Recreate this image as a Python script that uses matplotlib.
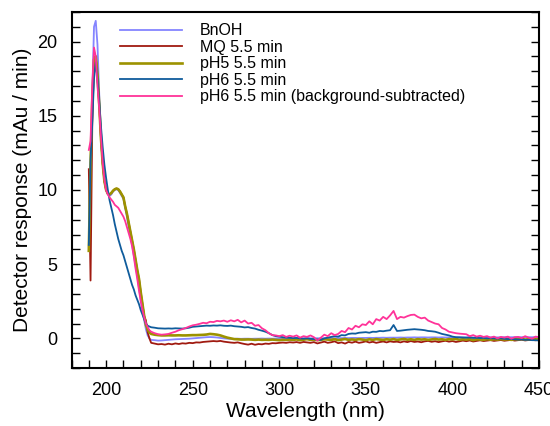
import numpy as np
import matplotlib.pyplot as plt
from matplotlib.ticker import MultipleLocator

# wavelength grids (nm): 1 nm steps around the peak, 2 nm steps in the tail
wl_head = np.arange(190, 227, 1)
wl_tail = np.arange(228, 452, 2)

bnoh_head = [6.2, 9.5, 16.5, 21.0, 21.4, 19.8, 16.5, 13.5, 11.8, 10.6,
             10.0, 9.7, 9.6, 9.7, 9.9, 10.0, 10.05, 10.0, 9.8, 9.6,
             9.4, 8.8, 8.2, 7.5, 6.9, 6.3, 5.6, 4.9, 4.2, 3.4,
             2.6, 1.8, 1.2, 0.6, 0.2, 0.0, -0.1]
bnoh_tail = [-0.12, -0.15, -0.14, -0.12, -0.1, -0.08, -0.06, -0.05, -0.04, -0.03,
             -0.02, 0.0, 0.02, 0.04, 0.06, 0.08, 0.09, 0.08, 0.06, 0.03,
             0.0, -0.02, -0.03, -0.03, -0.02, -0.03, -0.02, -0.02, -0.03, -0.02,
             -0.02, -0.01, -0.02, -0.01, -0.02, -0.01, 0.0, -0.01, 0.0, -0.01,
             0.0, 0.0, 0.01, 0.0, 0.01, 0.0, 0.01, 0.01, 0.0, 0.01,
             0.01, 0.02, 0.01, 0.02, 0.02, 0.03, 0.02, 0.03, 0.03, 0.02,
             0.03, 0.03, 0.04, 0.03, 0.04, 0.04, 0.05, 0.04, 0.05, 0.05,
             0.05, 0.06, 0.05, 0.06, 0.06, 0.07, 0.06, 0.07, 0.07, 0.06,
             0.07, 0.07, 0.06, 0.07, 0.06, 0.07, 0.06, 0.06, 0.07, 0.06,
             0.06, 0.07, 0.06, 0.06, 0.07, 0.06, 0.07, 0.07, 0.06, 0.07,
             0.07, 0.08, 0.07, 0.08, 0.08, 0.07, 0.08, 0.09, 0.08, 0.08,
             0.09, 0.08]

mq_head = [11.4, 3.9, 14.5, 18.6, 19.0, 17.6, 15.8, 13.5, 11.8, 10.6,
           10.0, 9.75, 9.7, 9.8, 9.95, 10.05, 10.1, 10.05, 9.9, 9.7,
           9.5, 8.9, 8.4, 7.8, 7.2, 6.6, 6.0, 5.3, 4.6, 4.0,
           3.1, 2.3, 1.5, 1.2, 0.4, 0.0, -0.3]
mq_tail = [-0.35, -0.4, -0.38, -0.42, -0.36, -0.4, -0.34, -0.38, -0.33, -0.35,
           -0.3, -0.32, -0.27, -0.28, -0.24, -0.22, -0.2, -0.18, -0.2, -0.17,
           -0.22, -0.25, -0.28, -0.3, -0.27, -0.33, -0.38, -0.42, -0.36, -0.43,
           -0.38, -0.4, -0.35, -0.37, -0.32, -0.33, -0.3, -0.28, -0.3, -0.26,
           -0.28, -0.25, -0.3, -0.24, -0.27, -0.3, -0.25, -0.34, -0.28, -0.22,
           -0.3, -0.26, -0.2, -0.32, -0.27, -0.35, -0.24, -0.29, -0.22, -0.3,
           -0.26, -0.2, -0.28, -0.23, -0.3, -0.25, -0.21, -0.27, -0.2, -0.24,
           -0.22, -0.27, -0.2, -0.25, -0.18, -0.24, -0.21, -0.26, -0.2, -0.17,
           -0.23, -0.19, -0.25, -0.2, -0.16, -0.22, -0.18, -0.24, -0.2, -0.15,
           -0.19, -0.14, -0.21, -0.17, -0.13, -0.18, -0.15, -0.12, -0.17, -0.14,
           -0.11, -0.16, -0.13, -0.1, -0.15, -0.12, -0.09, -0.14, -0.11, -0.1,
           -0.13, -0.1]

ph5_head = [5.9, 11.8, 16.0, 18.8, 19.0, 17.8, 15.8, 13.5, 11.8, 10.6,
            10.0, 9.75, 9.7, 9.8, 9.95, 10.05, 10.1, 10.05, 9.9, 9.7,
            9.5, 8.9, 8.4, 7.8, 7.2, 6.6, 6.0, 5.3, 4.6, 4.0,
            3.1, 2.3, 1.5, 0.9, 0.6, 0.4, 0.3]
ph5_tail = [0.25, 0.22, 0.2, 0.2, 0.21, 0.2, 0.2, 0.21, 0.2, 0.2,
            0.21, 0.22, 0.22, 0.23, 0.24, 0.26, 0.3, 0.28, 0.25, 0.2,
            0.12, 0.05, 0.0, -0.05, -0.06, -0.08, -0.08, -0.07, -0.08, -0.1,
            -0.08, -0.1, -0.09, -0.1, -0.08, -0.1, -0.12, -0.09, -0.1, -0.08,
            -0.1, -0.07, -0.12, -0.09, -0.05, -0.1, -0.08, -0.12, -0.1, -0.06,
            -0.08, -0.1, -0.05, -0.12, -0.08, -0.04, -0.1, -0.07, -0.1, -0.05,
            -0.08, -0.12, -0.06, -0.1, -0.05, -0.08, -0.1, -0.06, -0.09, -0.05,
            -0.1, -0.07, -0.04, -0.09, -0.06, -0.1, -0.05, -0.08, -0.06, -0.1,
            -0.07, -0.04, -0.08, -0.06, -0.1, -0.05, -0.07, -0.04, -0.09, -0.06,
            -0.08, -0.05, -0.12, -0.06, -0.08, -0.1, -0.05, -0.09, -0.06, -0.08,
            -0.05, -0.08, -0.06, -0.1, -0.05, -0.07, -0.04, -0.08, -0.06, -0.05,
            -0.07, -0.05]

ph6_head = [6.3, 12.0, 14.5, 17.5, 18.6, 17.5, 16.0, 14.3, 12.9, 11.7,
            10.8, 10.0, 9.3, 8.8, 8.3, 7.7, 7.2, 6.7, 6.3, 5.9,
            5.6, 5.2, 4.8, 4.4, 4.0, 3.6, 3.3, 2.9, 2.6, 2.3,
            1.9, 1.6, 1.3, 1.0, 0.85, 0.8, 0.75]
ph6_tail = [0.72, 0.68, 0.67, 0.66, 0.67, 0.66, 0.68, 0.67, 0.66, 0.68,
            0.72, 0.78, 0.8, 0.82, 0.84, 0.86, 0.85, 0.87, 0.86, 0.88,
            0.85, 0.84, 0.86, 0.82, 0.8, 0.78, 0.74, 0.76, 0.7, 0.66,
            0.58, 0.52, 0.45, 0.35, 0.22, 0.15, 0.12, 0.08, 0.05, 0.04,
            0.02, 0.03, 0.0, -0.02, 0.01, -0.03, -0.05, -0.08, -0.1, 0.0,
            0.05, 0.1, 0.15, 0.12, 0.22, 0.2, 0.3, 0.33, 0.32, 0.38,
            0.4, 0.42, 0.38, 0.45, 0.44, 0.5, 0.48, 0.52, 0.55, 0.9,
            0.5, 0.52, 0.55, 0.58, 0.6, 0.62, 0.6, 0.58, 0.55, 0.5,
            0.48, 0.45, 0.38, 0.3, 0.25, 0.2, 0.12, 0.08, 0.07, 0.06,
            0.05, 0.06, 0.03, 0.04, 0.02, 0.03, 0.0, 0.01, 0.0, -0.02,
            0.0, -0.03, -0.05, -0.04, -0.06, -0.08, -0.07, -0.1, -0.09, -0.12,
            -0.12, -0.14]

ph6bg_head = [12.7, 13.3, 17.0, 19.6, 19.0, 17.0, 15.5, 13.6, 11.9, 10.7,
              10.0, 9.7, 9.5, 9.35, 9.2, 9.0, 8.9, 8.8, 8.6, 8.4,
              8.2, 7.9, 7.5, 7.1, 6.7, 6.2, 5.5, 4.7, 4.0, 3.2,
              2.5, 1.9, 1.4, 1.0, 0.75, 0.55, 0.45]
ph6bg_tail = [0.35, 0.28, 0.25, 0.27, 0.3, 0.38, 0.45, 0.55, 0.62, 0.7,
              0.8, 0.88, 0.92, 0.98, 1.05, 1.02, 1.12, 1.1, 1.18, 1.15,
              1.2, 1.12, 1.22, 1.15, 1.25, 1.08, 1.2, 1.0, 1.05, 0.85,
              0.9, 0.68, 0.55, 0.35, 0.22, 0.2, 0.15, 0.22, 0.1, 0.18,
              0.12, 0.2, 0.05, 0.15, 0.1, 0.2, 0.08, -0.15, 0.05, 0.25,
              0.15, 0.35, 0.22, 0.3, 0.5, 0.42, 0.7, 0.6, 0.85, 0.75,
              0.95, 0.9, 1.15, 0.95, 1.3, 1.2, 1.45, 1.3, 1.55, 1.85,
              1.3, 1.45, 1.4, 1.5, 1.58, 1.6, 1.45, 1.35, 1.4, 1.2,
              1.1, 1.0, 0.95, 0.7, 0.6, 0.45, 0.4, 0.35, 0.32, 0.3,
              0.28, 0.15, 0.22, 0.12, 0.18, 0.1, 0.15, 0.05, 0.12, 0.0,
              0.1, 0.05, 0.12, -0.02, 0.08, 0.1, 0.02, 0.15, 0.05, -0.02,
              0.12, 0.08]

series = [
    ("BnOH", bnoh_head, bnoh_tail, "#8585ff", 1.3),
    ("MQ 5.5 min", mq_head, mq_tail, "#a01a10", 1.3),
    ("pH5 5.5 min", ph5_head, ph5_tail, "#9c9200", 1.9),
    ("pH6 5.5 min", ph6_head, ph6_tail, "#0f5c9c", 1.3),
    ("pH6 5.5 min (background-subtracted)", ph6bg_head, ph6bg_tail, "#ff3399", 1.3),
]

plt.rcParams['font.family'] = ['Liberation Sans', 'DejaVu Sans']

fig = plt.figure(figsize=(5.5, 4.26), dpi=100)
ax = fig.add_axes([0.130, 0.136, 0.850, 0.836])

wl = np.concatenate([wl_head, wl_tail])
for label, head, tail, color, lw in series:
    y = np.array(head + tail)
    assert len(y) == len(wl), label
    ax.plot(wl, y, color=color, lw=lw, label=label)

ax.set_xlim(180, 450)
ax.set_ylim(-2, 22)
ax.xaxis.set_major_locator(MultipleLocator(50))
ax.xaxis.set_minor_locator(MultipleLocator(10))
ax.yaxis.set_major_locator(MultipleLocator(5))
ax.yaxis.set_minor_locator(MultipleLocator(1))
ax.tick_params(which='major', direction='in', top=False, right=True,
               length=6, width=1, labelsize=13, pad=10)
ax.tick_params(which='minor', direction='in', top=False, right=True,
               length=6, width=1)
for s in ax.spines.values():
    s.set_linewidth(1.5)

ax.set_xlabel('Wavelength (nm)', fontsize=15, labelpad=2)
ax.set_ylabel('Detector response (mAu / min)', fontsize=15, labelpad=4)

ax.legend(loc='upper left', bbox_to_anchor=(0.08, 1.0), frameon=False,
          fontsize=11.5, handlelength=3.9, handletextpad=1.1,
          labelspacing=0.1, borderaxespad=0.3)

fig.savefig('out.png', dpi=100)
